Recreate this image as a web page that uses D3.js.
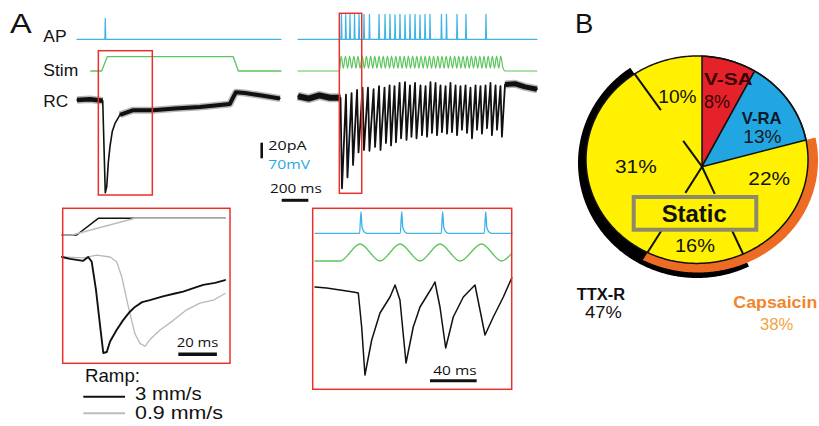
<!DOCTYPE html>
<html>
<head>
<meta charset="utf-8">
<script src="https://cdn.jsdelivr.net/npm/d3@7"></script>
<style>
  body { margin: 0; background: #fff; }
  svg { display: block; }
</style>
</head>
<body>
<svg id="fig" width="819" height="426"></svg>
<script>
// ---- panel A, left recording: time in ms, RC in pA, AP in mV, stim 0..1
const apLeftSpikes = [212];
const apLeftAmp = [94];
const stimLeft = [[103, 0], [185, 0], [227, 1], [1172, 1], [1210, 0], [1530, 0]];
const rcLeft = [
  [0, 0], [97, 1], [193, -1], [212, -119], [223, -111], [235, -80], [247, -60],
  [265, -40], [285, -30], [322, -19], [422, -13], [570, -13], [735, -11],
  [922, -9], [1035, -7], [1147, -5], [1170, 3], [1192, 10], [1260, 9],
  [1372, 6], [1522, 2],
];

// ---- panel A, right recording (vibration)
const apRightSpikes = [326, 358, 390, 424, 458, 495, 536, 608, 653, 690, 728, 765,
  803, 840, 878, 915, 953, 990, 1076, 1114, 1193, 1260, 1410];
const apRightAmp = [112, 112, 112, 112, 112, 112, 112, 112, 112, 112, 110, 112,
  108, 112, 112, 110, 112, 112, 112, 112, 112, 112, 112];
const stimRightPeakT = [324, 356, 387, 419, 450, 482, 513, 545, 576, 608, 639, 671,
  702, 734, 765, 797, 828, 860, 891, 923, 954, 986, 1017, 1049, 1080, 1112, 1143,
  1175, 1206, 1238, 1269, 1301, 1332, 1364, 1395, 1427, 1458, 1490, 1521];
const stimRightTroughT = [340, 372, 403, 435, 466, 498, 529, 561, 592, 624, 655, 687,
  718, 750, 781, 813, 844, 876, 907, 939, 970, 1002, 1033, 1065, 1096, 1128, 1159,
  1191, 1222, 1254, 1285, 1317, 1348, 1380, 1411, 1443, 1474, 1506, 1538];
const rcRightPre = [[0, 1], [80, -2], [160, 2], [240, -1], [319, -1]];
const rcRightTroughT = [330, 371, 413, 454, 495, 536, 578, 619, 660, 698, 735, 773,
  814, 851, 889, 930, 968, 1005, 1043, 1080, 1118, 1155, 1193, 1230, 1268, 1305,
  1343, 1380, 1418, 1455, 1493, 1530];
const rcRightTroughV = [-117, -103, -87, -71, -68, -69, -64, -68, -59, -62, -58, -53,
  -55, -51, -53, -49, -51, -46, -49, -45, -47, -45, -49, -42, -46, -53, -42, -47,
  -40, -49, -42, -51];
const rcRightPeakV = [-1, 3, 5, 9, 12, 12, 10, 14, 12, 15, 14, 18, 19, 15, 18, 15,
  14, 19, 18, 15, 14, 18, 15, 14, 15, 12, 15, 14, 15, 18, 15, 14];
const rcRightPost = [[1553, 16], [1628, 17], [1703, 13], [1793, 10]];

// ---- inset: ramp speed (ms, stim 0..1, current a.u.)
const rampFast = [[0, 0], [7.6, 0], [18.8, 1], [84.5, 1]];
const rampSlow = [[0, 0], [5.2, 0], [37.8, 1], [84.5, 1]];
const rcFast = [
  [0, 0], [4.1, -2], [11, -4], [13.6, 0], [15.4, -5], [17.6, -34], [19.7, -71],
  [21.4, -100], [23.2, -99], [24.9, -88], [28.3, -76], [31.6, -66], [35.2, -57],
  [37.8, -52], [41.5, -47], [45.6, -45], [52.3, -41], [58.5, -38], [62.8, -36],
  [68.9, -32], [73.2, -29], [79.3, -27], [84.5, -24],
];
const rcSlow = [
  [0, 0], [10.9, -1], [18, 2], [24.9, 0], [28.3, -5], [30.9, -20], [34.4, -52],
  [37.8, -80], [40.4, -90], [43, -93], [45.6, -86], [50.8, -76], [57.7, -66],
  [64.6, -55], [71.5, -48], [78.4, -45], [84.5, -38],
];

// ---- inset: vibration close-up
const apInSpikes = [39.4, 74.3, 109.4, 146.3];
const apWave = [[-1.2, 0], [0, 1], [0.9, 0.3], [2.5, 0.08], [5, 0]];
const stimIn = [[0, 0], [21.4, 0], [38.6, 1], [55.7, 0], [72.9, 1], [90, 0],
  [107.1, 1], [124.3, 0], [142.8, 1], [160, 0], [168.6, 0.45]];
const rcIn = [
  [0, 1], [10, 0], [21.4, -2], [32.8, -4], [37.1, -5], [40, -39], [42.8, -87],
  [48.6, -52], [55.7, -25], [64.3, -9], [68.6, 3], [72.8, -12], [78, -75],
  [84.2, -39], [90, -19], [100, 0], [102.8, 6], [107.1, -19], [112, -60],
  [118.5, -29], [127.1, -9], [137.1, 3], [141.4, -22], [145.7, -47], [152.8, -29],
  [161.4, -9], [168.6, 10],
];

// ---- panel B
const pieNames = ['V-SA', 'V-RA', 'Static 22', 'Static 16', 'Static 31', 'Static 10'];
const pieValues = [8, 13, 22, 16, 31, 10];
const capsaicinParts = [2, 3];
const ttxrParts = [3, 4];

const BLUE = '#3cb4e6';
const GREEN = '#5cc55c';
const RED = '#e8302c';
const INK = '#111';
const SANS = '"Liberation Sans", Arial, sans-serif';
const SCALEFONT = '"Open Sans", "Noto Sans", sans-serif';

const svg = d3.select('#fig');

const pathOf = (x, y, curve) => d3.line()
  .x((d) => x(d[0]))
  .y((d) => y(d[1]))
  .curve(curve || d3.curveLinear);

function trace(g, data, x, y, { color = INK, width = 1.4, curve, cap = 'round', opacity = 1 } = {}) {
  g.append('path')
    .datum(data)
    .attr('d', pathOf(x, y, curve))
    .attr('fill', 'none')
    .attr('stroke', color)
    .attr('stroke-width', width)
    .attr('stroke-opacity', opacity)
    .attr('stroke-linejoin', 'round')
    .attr('stroke-linecap', cap);
}

// noisy stretch of a recording: soft halo plus a solid core
function noisy(g, data, x, y, width) {
  trace(g, data, x, y, { width: width + 3, cap: 'butt', opacity: 0.3 });
  trace(g, data, x, y, { width, cap: 'butt' });
}

function apTrace(spikes, amps, t0, t1, rise, fall) {
  const pts = [[t0, 0]];
  spikes.forEach((s, i) => {
    pts.push([s - rise, 0], [s, amps[i]], [s + fall, 0]);
  });
  pts.push([t1, 0]);
  return pts;
}

function label(g, [str, x, y, size, width, weight, color, family]) {
  g.append('text')
    .attr('x', x)
    .attr('y', y)
    .attr('font-family', family || SANS)
    .attr('font-size', size)
    .attr('font-weight', weight || 'normal')
    .attr('fill', color || INK)
    .attr('textLength', width)
    .attr('lengthAdjust', 'spacingAndGlyphs')
    .text(str);
}

function box(g, x0, y0, x1, y1, color, w) {
  g.append('rect')
    .attr('x', x0).attr('y', y0)
    .attr('width', x1 - x0).attr('height', y1 - y0)
    .attr('fill', 'none')
    .attr('stroke', color)
    .attr('stroke-width', w);
}

function bar(g, x0, y0, x1, y1, w, color) {
  g.append('line')
    .attr('x1', x0).attr('y1', y0).attr('x2', x1).attr('y2', y1)
    .attr('stroke', color || INK)
    .attr('stroke-width', w);
}

// ================= panel A, top traces =================
const gA = svg.append('g');

const xL = d3.scaleLinear().domain([0, 1530]).range([77, 281]);
const xR = d3.scaleLinear().domain([0, 1793]).range([298, 537]);
const yAP = d3.scaleLinear().domain([0, 100]).range([39.3, 17]);
const yStim = d3.scaleLinear().domain([0, 1]).range([71, 56.7]);
const yRcL = d3.scaleLinear().domain([0, -20]).range([100, 115.6]);
const yRcR = d3.scaleLinear().domain([0, -20]).range([97, 112.6]);

// left recording
trace(gA, apTrace(apLeftSpikes, apLeftAmp, 0, 1530, 3, 4), xL, yAP, { color: BLUE, width: 1.2 });
trace(gA, stimLeft, xL, yStim, { color: GREEN, width: 1.3 });
trace(gA, rcLeft, xL, yRcL, { width: 1.6 });
noisy(gA, rcLeft.filter((d) => d[0] <= 195), xL, yRcL, 4.5);
noisy(gA, rcLeft.filter((d) => d[0] >= 300), xL, yRcL, 4);

// right recording
const stimRight = [[0, 0], [310, 0]];
stimRightPeakT.forEach((t, i) => {
  stimRight.push([t, 1.05], [stimRightTroughT[i], 0.2]);
});
stimRight.push([1553, 0], [1793, 0]);

const rcRight = rcRightPre.slice();
rcRightTroughT.forEach((t, i) => {
  rcRight.push([t - 11, rcRightPeakV[i]], [t, rcRightTroughV[i]]);
});
rcRightPost.forEach((d) => rcRight.push(d));

trace(gA, apTrace(apRightSpikes, apRightAmp, 0, 1793, 3, 4), xR, yAP, { color: BLUE, width: 1.2 });
trace(gA, stimRight, xR, yStim, { color: GREEN, width: 1.2, curve: d3.curveMonotoneX });
trace(gA, rcRight, xR, yRcR, { width: 1.8 });
noisy(gA, rcRightPre, xR, yRcR, 6);
noisy(gA, rcRightPost, xR, yRcR, 5);

// red frames marking the close-ups
box(gA, xL(160), 50.7, xL(565), 195, RED, 1.5);
box(gA, xR(310), 13.3, xR(478), 193.3, RED, 1.5);

// scale bars
const pA20 = yRcL(-20) - yRcL(0);
bar(gA, 261.7, 142.7, 261.7, 142.7 + pA20, 2.6);
const ms200 = xL(200) - xL(0);
bar(gA, 281.7, 200.3, 281.7 + ms200, 200.3, 3);

[
  ['A', 10, 33.3, 28, 21.7],
  ['AP', 43.3, 41.7, 16.5, 23.3],
  ['Stim', 43.3, 76, 16.5, 35],
  ['RC', 43.3, 107.3, 16.5, 25],
  ['20pA', 268.3, 150, 12.8, 38.3, 'normal', INK, SCALEFONT],
  ['70mV', 268.3, 169, 12.8, 41.7, 'normal', '#29a9e0', SCALEFONT],
  ['200 ms', 270, 193.3, 12.8, 51.7, 'normal', INK, SCALEFONT],
].forEach((d) => label(gA, d));

// ================= inset: ramp speed =================
const gI1 = svg.append('g');
const xI1 = d3.scaleLinear().domain([0, 85]).range([62, 226]);
const yRamp = d3.scaleLinear().domain([0, 1]).range([235, 218.3]);
const yI1 = d3.scaleLinear().domain([0, -100]).range([257, 353]);

trace(gI1, rampFast, xI1, yRamp, { width: 1.5 });
trace(gI1, rampSlow, xI1, yRamp, { color: '#bdbdbd', width: 1.4 });
trace(gI1, rcSlow, xI1, yI1, { color: '#b8b8b8', width: 1.3 });
trace(gI1, rcFast, xI1, yI1, { width: 1.9 });
box(gI1, 62.7, 208.3, 230, 363.3, RED, 1.5);

const ms20 = xI1(20) - xI1(0);
bar(gI1, 178.3, 354.2, 178.3 + ms20, 354.2, 3.4);
bar(gI1, 83.3, 396.7, 125, 396.7, 2);
bar(gI1, 83.3, 413.3, 125, 413.3, 2, '#bdbdbd');

[
  ['20 ms', 176.7, 346.7, 12.8, 41.7, 'normal', INK, SCALEFONT],
  ['Ramp:', 85, 381.7, 18.5, 55],
  ['3 mm/s', 135, 400, 17.5, 66.7],
  ['0.9 mm/s', 135, 418.5, 17.5, 88],
].forEach((d) => label(gI1, d));

// ================= inset: vibration =================
const gI2 = svg.append('g');
const xI2 = d3.scaleLinear().domain([0, 169]).range([315, 512.2]);
const yApIn = d3.scaleLinear().domain([0, 1]).range([233.3, 211.7]);
const yStimIn = d3.scaleLinear().domain([0, 1]).range([261, 244]);
const yI2 = d3.scaleLinear().domain([0, -90]).range([288, 378]);

const apIn = [[0, 0]];
apInSpikes.forEach((s) => apWave.forEach((w) => apIn.push([s + w[0], w[1]])));
apIn.push([169, 0]);

trace(gI2, apIn, xI2, yApIn, { color: BLUE, width: 1.3, curve: d3.curveMonotoneX });
trace(gI2, stimIn, xI2, yStimIn, { color: GREEN, width: 1.3, curve: d3.curveMonotoneX });
trace(gI2, rcIn, xI2, yI2, { width: 1.5 });
box(gI2, 312.7, 208.3, 511.7, 389.3, RED, 1.5);

const ms40 = xI2(40) - xI2(0);
bar(gI2, 430, 380.8, 430 + ms40, 380.8, 3);
label(gI2, ['40 ms', 433.3, 375, 12.8, 43.3, 'normal', INK, SCALEFONT]);

// ================= panel B, pie =================
const gB = svg.append('g');
const apex = [702, 166.7];
const rimE = { cx: 697, cy: 159.7, rx: 111, ry: 103.7 };
const blackE = { cx: 697, cy: 163, rx: 119, ry: 115 };
const orangeE = { cx: 698, cy: 160.5, rx: 120, ry: 112 };

const arcs = d3.pie().sort(null).startAngle(0).endAngle(2 * Math.PI)(pieValues);

function hit(e, a) {
  const dx = Math.sin(a);
  const dy = -Math.cos(a);
  const px = apex[0] - e.cx;
  const py = apex[1] - e.cy;
  const A = (dx * dx) / (e.rx * e.rx) + (dy * dy) / (e.ry * e.ry);
  const B = 2 * ((px * dx) / (e.rx * e.rx) + (py * dy) / (e.ry * e.ry));
  const C = (px * px) / (e.rx * e.rx) + (py * py) / (e.ry * e.ry) - 1;
  const t = (-B + Math.sqrt(B * B - 4 * A * C)) / (2 * A);
  return [apex[0] + t * dx, apex[1] + t * dy];
}

function rim(e, a0, a1) {
  const n = Math.max(2, Math.ceil((a1 - a0) / 0.01));
  return d3.range(n + 1).map((i) => hit(e, a0 + ((a1 - a0) * i) / n));
}

const closed = d3.line().curve(d3.curveLinearClosed);
const open = d3.line();

function band(parts, outer, color) {
  const a0 = arcs[parts[0]].startAngle;
  const a1 = arcs[parts[parts.length - 1]].endAngle;
  gB.append('path')
    .attr('d', closed(rim(outer, a0, a1).concat(rim(rimE, a0, a1).reverse())))
    .attr('fill', color);
}

band(ttxrParts, blackE, '#000');
band(capsaicinParts, orangeE, '#ee6b24');

// yellow static part as one wedge, then the two dynamic wedges
gB.append('path')
  .attr('d', closed([apex].concat(rim(rimE, arcs[2].startAngle, arcs[5].endAngle))))
  .attr('fill', '#fff100');

[[0, '#e5222a'], [1, '#22a6e2']].forEach(([i, color]) => {
  gB.append('path')
    .attr('d', closed([apex].concat(rim(rimE, arcs[i].startAngle, arcs[i].endAngle))))
    .attr('fill', color)
    .attr('stroke', INK)
    .attr('stroke-width', 1.5)
    .attr('stroke-linejoin', 'round');
});

gB.append('path')
  .attr('d', closed(rim(rimE, 0, 2 * Math.PI)))
  .attr('fill', 'none')
  .attr('stroke', INK)
  .attr('stroke-width', 1.5);

// split lines inside the static wedge: inner stub and outer segment
const splits = [[2, 30, 62], [3, 31, 64], [4, 32, 70]];
splits.forEach(([i, rIn, rOut]) => {
  const a = arcs[i].endAngle;
  const d = [Math.sin(a), -Math.cos(a)];
  const at = (r) => [apex[0] + r * d[0], apex[1] + r * d[1]];
  gB.append('path').attr('d', open([apex, at(rIn)]))
    .attr('stroke', INK).attr('stroke-width', 2);
  gB.append('path').attr('d', open([at(rOut), hit(rimE, a)]))
    .attr('stroke', INK).attr('stroke-width', 2);
});

gB.append('rect')
  .attr('x', 633.7).attr('y', 197)
  .attr('width', 122.6).attr('height', 32.7)
  .attr('fill', '#fff100')
  .attr('stroke', '#8d8a6c')
  .attr('stroke-width', 4);

[
  ['B', 575, 33.3, 28, 18.3],
  ['10%', 658.3, 103, 18, 38.3],
  ['V-SA', 704, 85, 17, 48.7, 'bold', '#3a0505'],
  ['8%', 704, 108.3, 18, 26, 'normal', '#3a0505'],
  ['V-RA', 741.7, 124, 17, 40, 'bold', '#0d1a2c'],
  ['13%', 743.3, 143.3, 18, 38.3, 'normal', '#1a1a1a'],
  ['31%', 615, 173.3, 18, 41.7],
  ['22%', 748.3, 185, 18, 41.7],
  ['Static', 661.7, 222.3, 24, 65, 'bold'],
  ['16%', 675, 251.7, 18, 40],
  ['TTX-R', 576.7, 299.5, 16, 48.3, 'bold'],
  ['47%', 585, 318, 16, 36.7],
  ['Capsaicin', 733.3, 308.3, 17, 84, 'bold', '#f0862c'],
  ['38%', 760, 330, 17, 33.3, 'normal', '#f5a244'],
].forEach((d) => label(gB, d));
</script>
</body>
</html>
